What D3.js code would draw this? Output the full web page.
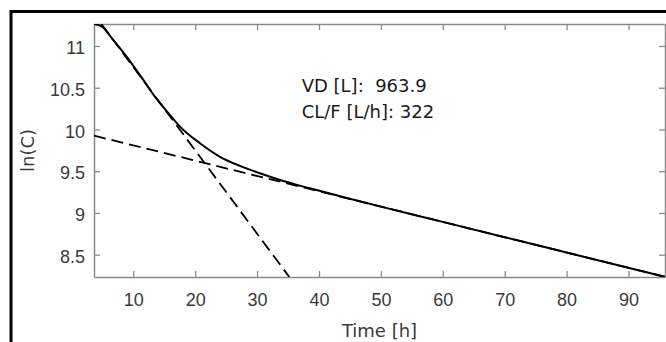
<!DOCTYPE html>
<html>
<head>
<meta charset="utf-8">
<script src="https://cdn.jsdelivr.net/npm/d3@7"></script>
<style>
  body { margin: 0; background: #fff; }
  svg { display: block; font-family: "DejaVu Sans", sans-serif; }
  text { white-space: pre; }
</style>
</head>
<body>
<svg id="chart"></svg>
<script>
const w = 666;
const h = 342;
const margin = { top: 24, right: 1, bottom: 65, left: 94 };

// ln(C) curve
const timeH = [3.65, 4.94, 6.55, 8.7, 11.39, 13.77, 15.92, 17.54, 20.77, 24.0, 27.23, 30.46, 33.69, 38.53, 43.38, 50, 60, 70, 80, 96];
const lnC = [11.263, 11.231, 11.092, 10.892, 10.617, 10.365, 10.174, 10.034, 9.835, 9.673, 9.564, 9.475, 9.395, 9.295, 9.201, 9.076, 8.893, 8.71, 8.526, 8.233];

// dashed fit lines (endpoints)
const terminalT = [3.65, 96];
const terminalLn = [9.926, 8.233];
const earlyT = [4.84, 35.2];
const earlyLn = [11.263, 8.233];

const xTicks = [10, 20, 30, 40, 50, 60, 70, 80, 90];
const yTicks = [8.5, 9, 9.5, 10, 10.5, 11];
const notes = ["VD [L]:  963.9", "CL/F [L/h]: 322"];

const svg = d3.select("#chart")
  .attr("width", w)
  .attr("height", h);

// outer figure frame (cut off on right and bottom)
svg.append("rect")
  .attr("x", 11)
  .attr("y", 11.5)
  .attr("width", 800)
  .attr("height", 500)
  .attr("fill", "none")
  .attr("stroke", "#000")
  .attr("stroke-width", 3);

const x = d3.scaleLinear()
  .domain([3.65, 95.9])
  .range([margin.left, w - margin.right]);

const y = d3.scaleLinear()
  .domain([8.233, 11.263])
  .range([h - margin.bottom, margin.top]);

svg.append("clipPath")
  .attr("id", "clip")
  .append("rect")
  .attr("x", margin.left)
  .attr("y", margin.top)
  .attr("width", w - margin.right - margin.left)
  .attr("height", h - margin.bottom - margin.top);

const axisColor = "#8a8a8a";
const labelColor = "#3a3a3a";
const fontSize = 18;

function styleAxis(g, showText) {
  g.select(".domain").attr("stroke", axisColor).attr("stroke-width", 1.5);
  g.selectAll(".tick line").attr("stroke", axisColor).attr("stroke-width", 1.3);
  g.selectAll(".tick text")
    .attr("fill", labelColor)
    .style("font-size", fontSize + "px")
    .style("display", showText ? null : "none");
}

svg.append("g")
  .attr("transform", `translate(0, ${h - margin.bottom})`)
  .call(d3.axisBottom(x).tickValues(xTicks).tickSize(-6).tickSizeOuter(0).tickPadding(16))
  .call(g => styleAxis(g, true));

svg.append("g")
  .attr("transform", `translate(0, ${margin.top})`)
  .call(d3.axisTop(x).tickValues(xTicks).tickSize(-6).tickSizeOuter(0))
  .call(g => styleAxis(g, false));

const yAxisG = svg.append("g")
  .attr("transform", `translate(${margin.left}, 0)`)
  .call(d3.axisLeft(y).tickValues(yTicks).tickSize(-6).tickSizeOuter(0).tickPadding(9).tickFormat(d3.format("")))
  .call(g => styleAxis(g, true));
yAxisG.selectAll(".tick text").attr("dy", "0.42em");

svg.append("g")
  .attr("transform", `translate(${w - margin.right}, 0)`)
  .call(d3.axisRight(y).tickValues(yTicks).tickSize(-6).tickSizeOuter(0))
  .call(g => styleAxis(g, false));

const lineGen = d3.line()
  .x(d => x(d[0]))
  .y(d => y(d[1]));

const plot = svg.append("g").attr("clip-path", "url(#clip)");

plot.append("path")
  .datum(d3.zip(terminalT, terminalLn))
  .attr("fill", "none")
  .attr("stroke", "#000")
  .attr("stroke-width", 1.8)
  .attr("stroke-dasharray", "12,6")
  .attr("d", lineGen);

plot.append("path")
  .datum(d3.zip(earlyT, earlyLn))
  .attr("fill", "none")
  .attr("stroke", "#000")
  .attr("stroke-width", 1.8)
  .attr("stroke-dasharray", "12,6")
  .attr("d", lineGen);

plot.append("path")
  .datum(d3.zip(timeH, lnC))
  .attr("fill", "none")
  .attr("stroke", "#000")
  .attr("stroke-width", 2)
  .attr("d", lineGen.curve(d3.curveMonotoneX));

// annotation
svg.selectAll(".note")
  .data(notes)
  .enter()
  .append("text")
  .attr("class", "note")
  .attr("x", x(37.2))
  .attr("y", (d, i) => y(10.53) + 6.5 + i * 26.5)
  .attr("fill", "#1a1a1a")
  .style("font-size", fontSize + "px")
  .text(d => d);

svg.append("text")
  .attr("x", (margin.left + w - margin.right) / 2)
  .attr("y", 337)
  .attr("text-anchor", "middle")
  .attr("fill", labelColor)
  .style("font-size", fontSize + "px")
  .text("Time [h]");

svg.append("text")
  .attr("transform", `translate(34, ${(margin.top + h - margin.bottom) / 2}) rotate(-90)`)
  .attr("text-anchor", "middle")
  .attr("fill", labelColor)
  .style("font-size", fontSize + "px")
  .text("ln(C)");
</script>
</body>
</html>
